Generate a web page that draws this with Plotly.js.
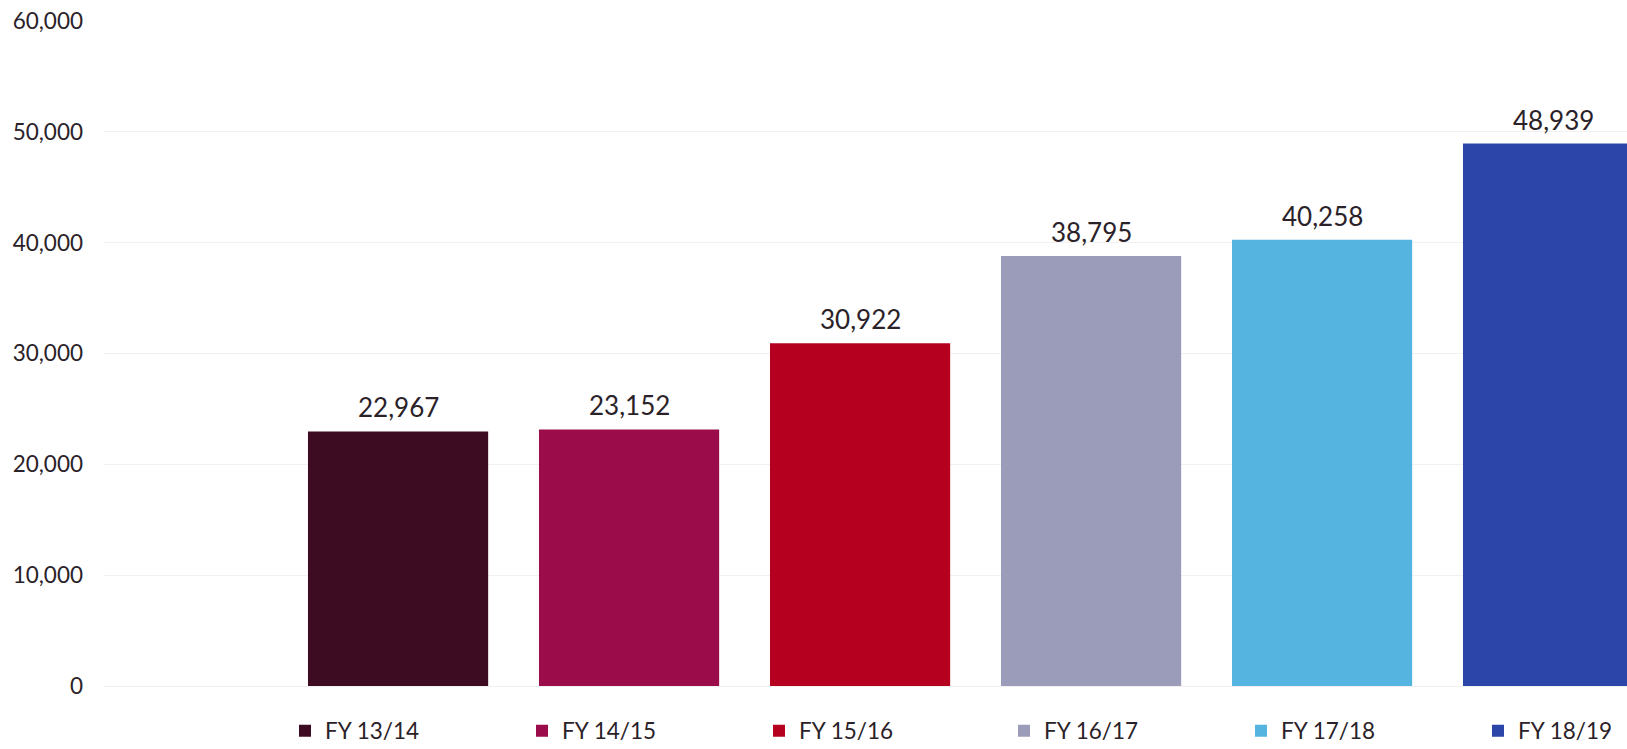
<!DOCTYPE html>
<html><head><meta charset="utf-8">
<script src="https://cdn.plot.ly/plotly-3.0.1.min.js"></script>
<style>html,body{margin:0;padding:0;background:#fff;}#chart{width:1627px;height:749px;}</style>
</head><body><div id="chart"></div>
<script>
const categories = ["FY 13/14", "FY 14/15", "FY 15/16", "FY 16/17", "FY 17/18", "FY 18/19"];
const values = [22967, 23152, 30922, 38795, 40258, 48939];
const colors = ["#3e0c22", "#9a0d4a", "#b5001f", "#9a9cba", "#55b5e0", "#2b45a8"];
const yTicks = [0, 10000, 20000, 30000, 40000, 50000, 60000];

const font = "Lato, 'Open Sans', sans-serif";
const textColor = '#2a2228';
const traces = categories.map((c, i) => ({
  type: 'bar',
  name: c,
  x: [i],
  y: [values[i]],
  width: 0.78,
  marker: {color: colors[i], line: {width: 0}},
  legend: i < 3 ? 'legend' : 'legend2',
  hoverinfo: 'x+y'
}));

const annotations = categories.map((c, i) => ({
  x: i, y: values[i], xref: 'x', yref: 'y',
  text: values[i].toLocaleString('en-US'),
  showarrow: false, xanchor: 'center', yanchor: 'bottom', yshift: 6,
  font: {family: font, size: 26, color: textColor}
}));

const legendBase = {
  orientation: 'h', xref: 'container', yref: 'container',
  xanchor: 'left', yanchor: 'middle', y: 1 - 731 / 749,
  font: {family: font, size: 22.5, color: textColor},
  entrywidth: 192, entrywidthmode: 'pixels', itemwidth: 30,
  traceorder: 'normal', bgcolor: 'rgba(0,0,0,0)'
};

const layout = {
  width: 1627, height: 749,
  margin: {l: 104, r: 0, t: 21, b: 63, autoexpand: false},
  paper_bgcolor: '#fff', plot_bgcolor: '#fff',
  barmode: 'overlay',
  showlegend: true,
  legend: Object.assign({}, legendBase, {x: 285 / 1627}),
  legend2: Object.assign({}, legendBase, {x: 1004 / 1627}),
  annotations: annotations,
  xaxis: {
    range: [-1.273, 5.32], showticklabels: false, showgrid: false,
    zeroline: false, showline: false, ticks: ''
  },
  yaxis: {
    range: [0, 60000], tickvals: yTicks,
    ticktext: yTicks.map(v => v.toLocaleString('en-US')),
    tickfont: {family: font, size: 22.5, color: textColor},
    showgrid: true, gridcolor: '#f1f1f1', gridwidth: 1,
    zeroline: true, zerolinecolor: '#f1f1f1', zerolinewidth: 1,
    showline: false, ticks: '', ticklabelstandoff: 20
  },
  font: {family: font}
};
Plotly.newPlot('chart', traces, layout, {displayModeBar: false, staticPlot: true});
</script></body></html>
